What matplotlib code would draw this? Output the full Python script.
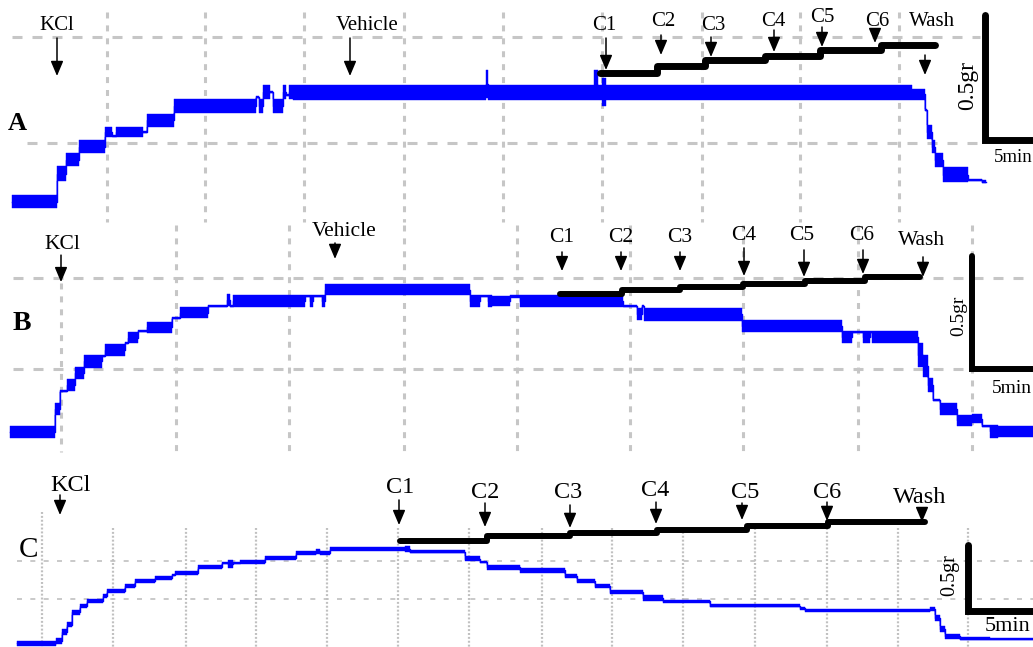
import numpy as np
import matplotlib
matplotlib.use("Agg")
import matplotlib.pyplot as plt

plt.rcParams['font.family'] = ['Liberation Serif', 'DejaVu Serif']
plt.rcParams['lines.scale_dashes'] = False

# ---------------- DATA (time in min, tension in g) ----------------
# Panel A - tension trace (step edges, level, oscillation amplitude)
a_edges = [0.6, 2.85, 3.3, 3.95, 5.25, 5.6, 5.8, 7.15, 7.35, 8.7, 12.8, 12.95, 13.15, 13.5,
           13.65, 14.15, 14.3, 14.45, 14.65, 24.3, 24.4, 29.7, 29.9, 30.1, 30.3, 45.6,
           46.25, 46.35, 46.6, 46.75, 47.15, 48.4, 49.1, 49.3]
a_level = [0.052, 0.164, 0.22, 0.272, 0.332, 0.316, 0.332, 0.332, 0.38, 0.436, 0.472, 0.436,
           0.492, 0.492, 0.436, 0.492, 0.48, 0.492, 0.492, 0.524, 0.492, 0.52, 0.492, 0.492,
           0.492, 0.484, 0.42, 0.332, 0.272, 0.22, 0.16, 0.14, 0.132]
a_amp = [0.052, 0.06, 0.052, 0.052, 0.044, 0.008, 0.044, 0.008, 0.052, 0.056, 0.008, 0.056,
         0.056, 0.008, 0.056, 0.056, 0.008, 0.056, 0.06, 0.112, 0.06, 0.12, 0.06, 0.112,
         0.06, 0.044, 0.008, 0.06, 0.052, 0.056, 0.06, 0.008, 0.012]
# Panel A - cumulative dose trace
a_dose_edges = [30.0, 32.85, 35.25, 38.25, 41.0, 44.05, 46.75]
a_dose_level = [0.568, 0.596, 0.62, 0.636, 0.66, 0.68]
a_events = ["KCl", "Vehicle", "C1", "C2", "C3", "C4", "C5", "C6", "Wash"]
a_event_t = [2.85, 17.5, 30.3, 33.05, 35.55, 38.7, 41.1, 43.75, 46.25]

# Panel B
b_edges = [0.5, 2.75, 3.0, 3.35, 3.75, 4.2, 5.1, 5.25, 6.25, 6.4, 6.9, 7.35, 8.6, 9.0, 10.4,
           11.35, 11.5, 11.65, 15.25, 15.5, 15.65, 16.1, 16.25, 23.5, 24.0, 24.4, 24.6, 25.5,
           26.0, 31.15, 31.85, 32.1, 32.2, 37.1, 42.1, 42.6, 43.15, 43.5, 43.6, 45.9, 46.15,
           46.4, 46.65, 47.0, 47.85, 48.6, 49.1, 49.5, 49.9, 51.65]
b_level = [0.058, 0.16, 0.24, 0.267, 0.32, 0.373, 0.396, 0.422, 0.453, 0.476, 0.507, 0.524,
           0.564, 0.587, 0.618, 0.644, 0.618, 0.64, 0.662, 0.64, 0.662, 0.64, 0.689, 0.64,
           0.662, 0.64, 0.64, 0.662, 0.64, 0.618, 0.582, 0.618, 0.582, 0.529, 0.48, 0.502,
           0.48, 0.502, 0.48, 0.4, 0.351, 0.267, 0.2, 0.16, 0.111, 0.116, 0.084, 0.062, 0.058]
b_amp = [0.053, 0.053, 0.009, 0.053, 0.053, 0.058, 0.009, 0.053, 0.009, 0.049, 0.009, 0.049,
         0.009, 0.049, 0.009, 0.053, 0.009, 0.053, 0.009, 0.053, 0.009, 0.053, 0.049, 0.053,
         0.009, 0.053, 0.044, 0.013, 0.049, 0.009, 0.053, 0.009, 0.058, 0.053, 0.049, 0.009,
         0.049, 0.009, 0.049, 0.107, 0.102, 0.062, 0.009, 0.053, 0.049, 0.04, 0.009, 0.058,
         0.049]
b_dose_edges = [28.0, 31.1, 34.0, 37.15, 40.25, 43.25, 46.0]
b_dose_level = [0.671, 0.689, 0.702, 0.716, 0.729, 0.747]
b_events = ["KCl", "Vehicle", "C1", "C2", "C3", "C4", "C5", "C6", "Wash"]
b_event_t = [3.05, 16.75, 28.1, 31.05, 34.0, 37.2, 40.2, 43.15, 46.15]

# Panel C
c_edges = [0.85, 2.8, 3.1, 3.35, 3.6, 4.0, 4.35, 5.15, 5.35, 6.25, 6.75, 7.75, 8.6, 8.75, 9.9,
           11.1, 11.4, 11.65, 12.0, 13.25, 14.8, 15.8, 16.0, 16.5, 20.25, 20.5, 22.0, 23.25,
           24.0, 24.35, 26.0, 28.25, 28.85, 29.75, 30.5, 32.15, 33.15, 35.5, 40.0, 40.25,
           46.5, 46.75, 47.0, 47.25, 48.0, 49.5, 51.65]
c_level = [0.03, 0.045, 0.114, 0.167, 0.265, 0.311, 0.348, 0.386, 0.424, 0.462, 0.5, 0.523,
           0.545, 0.561, 0.606, 0.636, 0.629, 0.636, 0.644, 0.674, 0.712, 0.727, 0.712, 0.742,
           0.742, 0.72, 0.72, 0.667, 0.644, 0.606, 0.583, 0.538, 0.5, 0.462, 0.417, 0.371,
           0.348, 0.311, 0.295, 0.28, 0.288, 0.22, 0.136, 0.083, 0.061, 0.061]
c_amp = [0.038, 0.045, 0.045, 0.038, 0.038, 0.03, 0.03, 0.03, 0.03, 0.03, 0.03, 0.03, 0.015,
         0.03, 0.03, 0.015, 0.061, 0.015, 0.03, 0.03, 0.03, 0.038, 0.03, 0.03, 0.045, 0.023,
         0.023, 0.038, 0.015, 0.038, 0.038, 0.023, 0.03, 0.03, 0.03, 0.045, 0.023, 0.023,
         0.023, 0.023, 0.023, 0.045, 0.045, 0.038, 0.023, 0.015]
c_dose_edges = [20.0, 24.35, 28.5, 32.85, 37.35, 41.4, 46.25]
c_dose_level = [0.803, 0.841, 0.864, 0.886, 0.917, 0.947]
c_events = ["KCl", "C1", "C2", "C3", "C4", "C5", "C6", "Wash"]
c_event_t = [3.0, 19.95, 24.25, 28.5, 32.8, 37.1, 41.35, 46.1]

scale_g = 0.5
scale_min = 5

# ---------------- LAYOUT ----------------
W, H = 1033, 647
fig = plt.figure(figsize=(W / 100, H / 100), dpi=100)
fig.patch.set_facecolor('white')

panels = [
    dict(name="A", band=(0, 215), k=250, edges=a_edges, level=a_level, amp=a_amp,
         dedges=a_dose_edges, dlevel=a_dose_level, events=a_events, et=a_event_t,
         tail=[0.708, 0.708, 0.708, 0.72, 0.712, 0.74, 0.752, 0.724, 0.64],
         tip=[0.556, 0.556, 0.58, 0.64, 0.632, 0.652, 0.672, 0.688, 0.56],
         tx=[2.85, 18.35, 30.2, 33.15, 35.65, 38.65, 41.1, 43.85, 46.6],
         ty=[0.756, 0.76, 0.76, 0.772, 0.76, 0.772, 0.792, 0.772, 0.772],
         fs=15, gv=[5.35, 10.25, 15.2, 20.2, 25.15, 30.1, 35.1, 40.0, 44.95],
         gv_top=[0.812] * 9, gv_bot=-0.03, gh=[0.712, 0.288], gh_x0=[0.6, 1.35], gh_x1=49.0,
         gstyle='dash', bar=(49.25, 0.3), bar_lw=5.0, dose_lw=5.0,
         lab_g=(48.4, 0.52, 17), lab_m=(50.65, 0.228, 13.5), plabel=(0.85, 0.368, 19, 'bold')),
    dict(name="B", band=(215, 445), k=225, edges=b_edges, level=b_level, amp=b_amp,
         dedges=b_dose_edges, dlevel=b_dose_level, events=b_events, et=b_event_t,
         tail=[0.844, 0.898, 0.858, 0.858, 0.858, 0.876, 0.867, 0.867, 0.836],
         tip=[0.724, 0.827, 0.773, 0.773, 0.773, 0.751, 0.747, 0.76, 0.747],
         tx=[3.1, 17.2, 28.1, 31.05, 34.0, 37.2, 40.1, 43.1, 46.1],
         ty=[0.893, 0.947, 0.92, 0.92, 0.92, 0.929, 0.929, 0.929, 0.907],
         fs=15.5, gv=[3.05, 8.8, 14.45, 20.2, 25.85, 31.5, 37.15, 42.9, 48.6],
         gv_top=[0.72] + [0.978] * 8, gv_bot=-0.031, gh=[0.742, 0.338], gh_x0=[0.65, 0.65],
         gh_x1=51.65, gstyle='dash', bar=(48.6, 0.338), bar_lw=4.3, dose_lw=4.3,
         lab_g=(47.95, 0.573, 14), lab_m=(50.6, 0.253, 14), plabel=(1.1, 0.542, 20, 'bold')),
    dict(name="C", band=(445, 647), k=132, edges=c_edges, level=c_level, amp=c_amp,
         dedges=c_dose_edges, dlevel=c_dose_level, events=c_events, et=c_event_t,
         tail=[1.152, 1.114, 1.091, 1.076, 1.098, 1.091, 1.098, 1.053],
         tip=[1.0, 0.924, 0.909, 0.902, 0.932, 0.962, 0.955, 0.947],
         tx=[3.5, 20.0, 24.25, 28.4, 32.75, 37.25, 41.35, 46.0],
         ty=[1.227, 1.205, 1.174, 1.167, 1.189, 1.174, 1.167, 1.136],
         fs=17.5, gv=[2.1, 5.65, 9.3, 12.8, 16.35, 19.9, 23.45, 27.1, 30.6, 34.15, 37.75,
                      41.35, 44.9, 48.4],
         gv_top=[1.023] + [0.902] * 13, gv_bot=0.0, gh=[0.652, 0.364], gh_x0=[0.85, 0.85],
         gh_x1=51.65, gstyle='dot', bar=(48.4, 0.273), bar_lw=5.0, dose_lw=4.3,
         lab_g=(47.5, 0.545, 14.5), lab_m=(50.4, 0.152, 16), plabel=(1.4, 0.735, 21, 'normal')),
]

xmax = W / 20.0
for p in panels:
    top, bot = p['band']
    ax = fig.add_axes([0, 1 - bot / H, 1, (bot - top) / H])
    ax.set_xlim(0, xmax)
    ax.set_ylim(0, (bot - top) / p['k'])
    ax.set_axis_off()

    # grid
    if p['gstyle'] == 'dash':
        vls, hls, glw, gc = (0, (4.3, 5.0)), (0, (7.2, 7.2)), 2.2, '#c6c6c6'
    else:
        vls, hls, glw, gc = (0, (1.4, 1.4)), (0, (3.6, 6.0)), 1.6, '#c0c0c0'
    for x, yt in zip(p['gv'], p['gv_top']):
        ax.plot([x, x], [yt, p['gv_bot']], ls=vls, lw=glw, color=gc, clip_on=False, zorder=1)
    for y, x0 in zip(p['gh'], p['gh_x0']):
        ax.plot([x0, p['gh_x1']], [y, y], ls=hls, lw=glw if p['gstyle'] == 'dash' else 1.2,
                color=gc, zorder=1)

    # tension trace
    e = np.asarray(p['edges'])
    y = np.asarray(p['level'])
    a = np.asarray(p['amp'])
    lo = np.append(y - a / 2, y[-1] - a[-1] / 2)
    hi = np.append(y + a / 2, y[-1] + a[-1] / 2)
    ax.fill_between(e, lo, hi, step='post', color='#0000ff', lw=0.3, edgecolor='#0000ff',
                    zorder=3)
    ax.plot(e, np.append(y, y[-1]), drawstyle='steps-post', color='#0000ff', lw=1.0, zorder=3)

    # dose trace
    de = np.asarray(p['dedges'])
    dl = np.asarray(p['dlevel'])
    ax.plot(de, np.append(dl, dl[-1]), drawstyle='steps-post', color='black', lw=p['dose_lw'],
            solid_capstyle='round', solid_joinstyle='round', zorder=4)

    # event arrows & labels
    for lab, t, yt, yp, tx, ty in zip(p['events'], p['et'], p['tail'], p['tip'], p['tx'], p['ty']):
        ax.annotate('', xy=(t, yp), xytext=(t, yt),
                    arrowprops=dict(arrowstyle='-|>,head_length=0.45,head_width=0.19',
                                    mutation_scale=20, lw=1.1, color='black',
                                    shrinkA=0, shrinkB=0), zorder=5)
        ax.text(tx, ty, lab, ha='center', va='center', fontsize=p['fs'], color='black',
                zorder=6)

    # scale bar
    bx, by = p['bar']
    ax.plot([bx, bx, bx + scale_min], [by + scale_g, by, by], color='black', lw=p['bar_lw'],
            solid_joinstyle='miter', solid_capstyle='round', zorder=5)
    gx, gy, gfs = p['lab_g']
    ax.text(gx, gy, f"{scale_g}gr", rotation=90, ha='center', va='center', fontsize=gfs)
    mx, my, mfs = p['lab_m']
    ax.text(mx, my, f"{scale_min}min", ha='center', va='center', fontsize=mfs)

    # panel label
    lx, ly, lfs, lw_ = p['plabel']
    ax.text(lx, ly, p['name'], ha='center', va='center', fontsize=lfs, fontweight=lw_)

fig.savefig('out.png', dpi=100, facecolor='white')
